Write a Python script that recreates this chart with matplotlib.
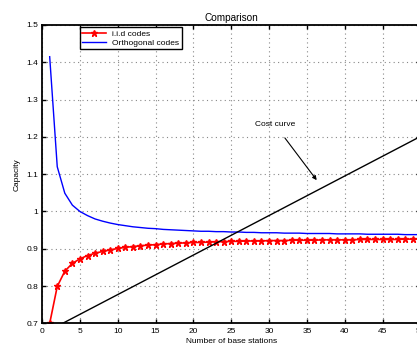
import numpy as np
import matplotlib
matplotlib.use("Agg")
from matplotlib import pyplot as plt

# number of base stations
stations = list(range(1, 51))

# capacity with i.i.d codes
iid_capacity = [0.700, 0.799, 0.840, 0.861, 0.873, 0.882, 0.888, 0.893, 0.897, 0.901,
                0.904, 0.906, 0.908, 0.910, 0.911, 0.913, 0.914, 0.915, 0.916, 0.917,
                0.917, 0.918, 0.919, 0.919, 0.920, 0.920, 0.921, 0.921, 0.921, 0.922,
                0.922, 0.922, 0.923, 0.923, 0.923, 0.923, 0.924, 0.924, 0.924, 0.924,
                0.924, 0.925, 0.925, 0.925, 0.925, 0.925, 0.925, 0.926, 0.926, 0.926]

# capacity with orthogonal codes
orth_capacity = [1.415, 1.120, 1.049, 1.017, 1.000, 0.989, 0.980, 0.974, 0.969, 0.965,
                 0.962, 0.959, 0.957, 0.955, 0.954, 0.952, 0.951, 0.950, 0.949, 0.948,
                 0.947, 0.947, 0.946, 0.946, 0.945, 0.945, 0.944, 0.944, 0.943, 0.943,
                 0.943, 0.942, 0.942, 0.942, 0.941, 0.941, 0.941, 0.941, 0.940, 0.940,
                 0.940, 0.940, 0.939, 0.939, 0.939, 0.939, 0.939, 0.938, 0.938, 0.938]

# cost curve end points
cost_x = [1, 50]
cost_y = [0.682, 1.201]

plt.rcParams["font.family"] = ["Liberation Sans", "DejaVu Sans"]
plt.rcParams["font.size"] = 6

fig = plt.figure(figsize=(4.17, 3.47), dpi=100)
ax = fig.add_axes([0.101, 0.068, 0.907, 0.86])

ax.plot(stations, iid_capacity, "-", color="red", marker="*", markersize=5,
        markeredgewidth=1.0, linewidth=1.2, label="i.i.d codes")
ax.plot(stations, orth_capacity, "-", color="blue", linewidth=1.0,
        label="Orthogonal codes")
ax.plot(cost_x, cost_y, "-", color="black", linewidth=1.0)

ax.annotate("Cost curve", xy=(36.3, 1.084), xytext=(30.8, 1.232),
            ha="center", va="center",
            arrowprops=dict(arrowstyle="-|>", color="black", lw=0.8,
                            mutation_scale=6, shrinkA=6, shrinkB=0))

ax.set_xlim(0, 50)
ax.set_ylim(0.7, 1.5)
ax.set_xticks(range(0, 51, 5))
ax.set_yticks([0.7, 0.8, 0.9, 1.0, 1.1, 1.2, 1.3, 1.4, 1.5])
ax.set_yticklabels(["0.7", "0.8", "0.9", "1", "1.1", "1.2", "1.3", "1.4", "1.5"])
ax.tick_params(direction="in", top=True, right=True, length=3, width=1, pad=3)
for s in ax.spines.values():
    s.set_linewidth(1.3)
ax.grid(True, linestyle=(0, (1, 3)), color="#888888", linewidth=0.8)

ax.set_xlabel("Number of base stations", labelpad=2.5)
ax.set_ylabel("Capacity", labelpad=4)
ax.set_title("Comparison", pad=3)

leg = ax.legend(loc="upper left", bbox_to_anchor=(0.1, 0.992), fancybox=False,
                edgecolor="black", framealpha=1, borderpad=0.3, labelspacing=0.15,
                handlelength=2.8, borderaxespad=0)
leg.get_frame().set_linewidth(1.0)

fig.savefig("out.png", dpi=100)
